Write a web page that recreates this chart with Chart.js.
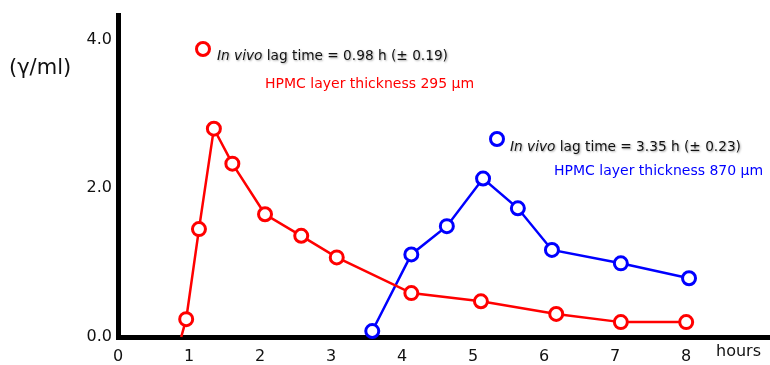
<!DOCTYPE html>
<html>
<head>
<meta charset="utf-8">
<script src="https://cdn.jsdelivr.net/npm/chart.js@4.4.0/dist/chart.umd.min.js"></script>
<style>
html, body { margin: 0; padding: 0; background: #fff; }
</style>
</head>
<body>
<canvas id="plasma" width="770" height="365"></canvas>
<script>
// plasma levels, hours vs gamma/ml
var redTime = [0.89, 0.96, 1.14, 1.35, 1.61, 2.07, 2.58, 3.08, 4.13, 5.11, 6.17, 7.08, 8.0];
var redConc = [0, 0.24, 1.45, 2.8, 2.33, 1.65, 1.36, 1.07, 0.59, 0.48, 0.31, 0.2, 0.2];
var blueTime = [3.58, 4.13, 4.63, 5.14, 5.63, 6.11, 7.08, 8.04];
var blueConc = [0.08, 1.11, 1.49, 2.13, 1.73, 1.17, 0.99, 0.79];
var xTicks = [0, 1, 2, 3, 4, 5, 6, 7, 8];
var yTicks = [0, 2, 4];
var yTickLabels = ['0.0', '2.0', '4.0'];
var notes = [
	{ color: '#ff0000', lag: '0.98 h (\u00b1 0.19)', layer: 'HPMC layer thickness 295 \u00b5m' },
	{ color: '#0000ff', lag: '3.35 h (\u00b1 0.23)', layer: 'HPMC layer thickness 870 \u00b5m' }
];

function pts(xs, ys) {
	return xs.map(function (x, i) { return { x: x, y: ys[i] }; });
}

// labels and the lag-time notes
var extras = {
	id: 'extras',
	afterDraw: function (chart) {
		var c = chart.ctx;
		c.save();
		c.fillStyle = '#111';
		c.textBaseline = 'middle';
		c.font = '21px "DejaVu Sans"';
		c.textAlign = 'left';
		c.fillText('(\u03b3/ml)', 9, 69);
		c.font = '16px "DejaVu Sans"';
		c.fillText('hours', 716, 352);

		var spots = [
			{ cx: 203, cy: 49, tx: 217, ty: 56, lx: 265, ly: 84, lw: 212 },
			{ cx: 497, cy: 139, tx: 510, ty: 147, lx: 554, ly: 171, lw: 213 }
		];
		spots.forEach(function (s, i) {
			var n = notes[i];
			c.beginPath();
			c.arc(s.cx, s.cy, 6.5, 0, Math.PI * 2);
			c.fillStyle = '#fff';
			c.fill();
			c.lineWidth = 3;
			c.strokeStyle = n.color;
			c.stroke();

			c.shadowColor = 'rgba(0,0,0,0.35)';
			c.shadowOffsetX = 1;
			c.shadowOffsetY = 1;
			c.shadowBlur = 2;
			c.fillStyle = '#111';
			c.font = 'italic 13.7px "DejaVu Sans"';
			c.fillText('In vivo', s.tx, s.ty);
			var w = c.measureText('In vivo ').width;
			c.font = '13.7px "DejaVu Sans"';
			c.fillText('lag time = ' + n.lag, s.tx + w, s.ty);
			c.shadowColor = 'transparent';

			c.fillStyle = n.color;
			c.font = '14px "DejaVu Sans"';
			c.fillText(n.layer, s.lx, s.ly, s.lw);
		});
		c.restore();
	}
};

var ctx = document.getElementById('plasma');
var myChart = new Chart(ctx, {
	type: 'line',
	data: {
		datasets: [{
			label: '295 um',
			data: pts(redTime, redConc),
			borderColor: '#ff0000',
			borderWidth: 2.5,
			pointBorderColor: '#ff0000',
			pointBackgroundColor: '#ffffff',
			pointBorderWidth: 3,
			pointRadius: function (c) { return c.dataIndex === 0 ? 0 : 6.5; },
			tension: 0,
			clip: false
		}, {
			label: '870 um',
			data: pts(blueTime, blueConc),
			borderColor: '#0000ff',
			borderWidth: 2.5,
			pointBorderColor: '#0000ff',
			pointBackgroundColor: '#ffffff',
			pointBorderWidth: 3,
			pointRadius: 6.5,
			tension: 0,
			clip: false
		}]
	},
	plugins: [extras],
	options: {
		responsive: false,
		animation: false,
		layout: { autoPadding: false, padding: { top: 13, right: 0, left: 0, bottom: 0 } },
		plugins: {
			legend: { display: false },
			tooltip: { enabled: false }
		},
		scales: {
			x: {
				type: 'linear',
				min: 0,
				max: 9.18,
				afterBuildTicks: function (s) {
					s.ticks = xTicks.map(function (v) { return { value: v }; });
				},
				afterFit: function (s) {
					s.height = 28;
					s.paddingRight = 0;
					s.paddingLeft = 0;
				},
				grid: { display: false, drawTicks: false },
				border: { display: true, color: '#000', width: 5 },
				ticks: {
					color: '#111',
					padding: 10,
					maxRotation: 0,
					font: { family: 'DejaVu Sans', size: 16 },
					callback: function (v) { return String(v); }
				}
			},
			y: {
				min: 0,
				max: 4.32,
				afterBuildTicks: function (s) {
					s.ticks = yTicks.map(function (v) { return { value: v }; });
				},
				afterFit: function (s) { s.width = 118; },
				grid: { display: false, drawTicks: false },
				border: { display: true, color: '#000', width: 5 },
				ticks: {
					color: '#111',
					padding: 6,
					font: { family: 'DejaVu Sans', size: 16 },
					callback: function (v) { return yTickLabels[yTicks.indexOf(v)]; }
				}
			}
		}
	}
});
</script>
</body>
</html>
